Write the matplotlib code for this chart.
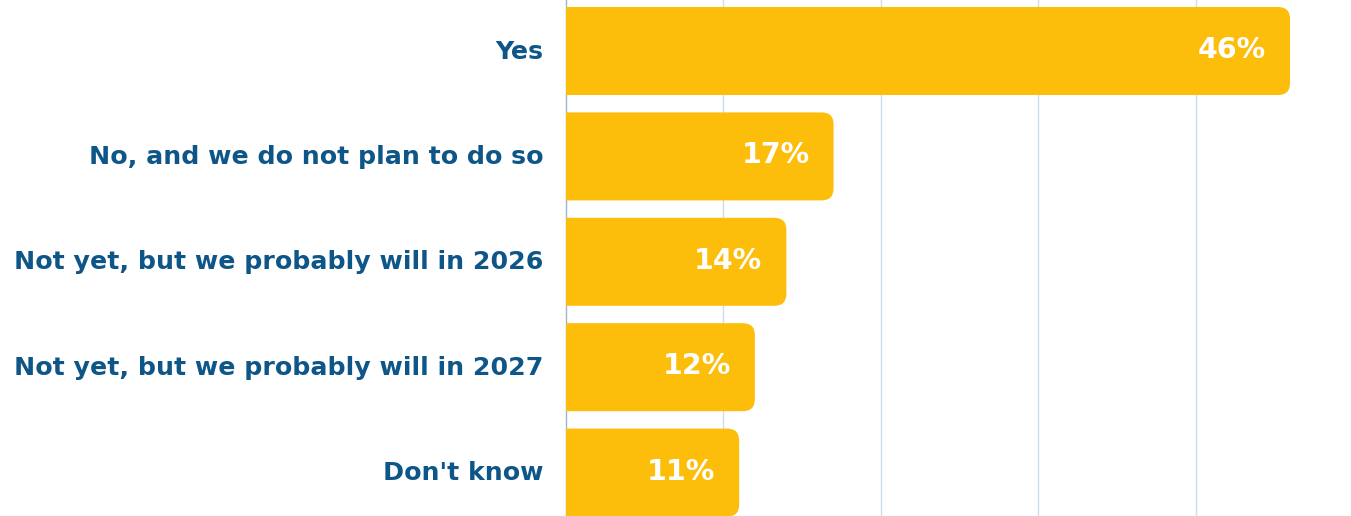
import matplotlib
matplotlib.use("Agg")
import matplotlib.pyplot as plt
import matplotlib.transforms as mtransforms
from matplotlib.patches import FancyBboxPatch

categories = ["Yes", "No, and we do not plan to do so", "Not yet, but we probably will in 2026",
              "Not yet, but we probably will in 2027", "Don't know"]
values = [46, 17, 14, 12, 11]
value_labels = ["46%", "17%", "14%", "12%", "11%"]

W, H = 1351, 516
fig = plt.figure(figsize=(W / 100, H / 100), dpi=100)
ax = fig.add_axes([566 / W, 0, (1353 - 566) / W, 1])

bar_color = "#FDBE0B"
label_color = "#0E5687"
grid_color = "#CCDCE8"

ypos = list(range(len(categories)))
ax.set_xlim(0, 50)
ax.set_ylim(4.412, -0.484)
height = 0.835

bars = ax.barh(ypos, values, height=height, color="none")
px_x = 15.74  # pixels per unit x
px_y = 105.4  # pixels per unit y
r = 12 / px_x
for b in bars:
    x0, y0 = b.get_x(), b.get_y()
    w, h = b.get_width(), b.get_height()
    p = FancyBboxPatch((x0 - 2, y0), w + 2, h,
                       boxstyle=f"round,pad=0,rounding_size={r}",
                       mutation_aspect=px_x / px_y,
                       facecolor=bar_color, edgecolor="none", zorder=3)
    ax.add_patch(p)
    b.remove()

for y, v, lab in zip(ypos, values, value_labels):
    ax.annotate(lab, xy=(v, y), xytext=(-24, 1), textcoords="offset pixels",
                ha="right", va="center", color="white", fontsize=20.5,
                fontweight="bold", family=["DejaVu Sans"], zorder=4)

ax.set_yticks(ypos)
ax.set_yticklabels(categories, fontsize=18.2, fontweight="bold", color=label_color,
                   family=["DejaVu Sans"])
ax.tick_params(axis="y", length=0, pad=16.5)
off = mtransforms.ScaledTranslation(0, 2 / 100, fig.dpi_scale_trans)
for t in ax.get_yticklabels():
    t.set_transform(t.get_transform() + off)
ax.set_xticks([10, 20, 30, 40])
ax.tick_params(axis="x", length=0, labelbottom=False)
ax.grid(axis="x", color=grid_color, linewidth=1, zorder=0)
ax.set_axisbelow(True)
for s in ["top", "right", "bottom"]:
    ax.spines[s].set_visible(False)
ax.spines["left"].set_color("#9DB6CC")
ax.spines["left"].set_linewidth(1)
ax.spines["left"].set_zorder(1)

fig.savefig("out.png", dpi=100)
